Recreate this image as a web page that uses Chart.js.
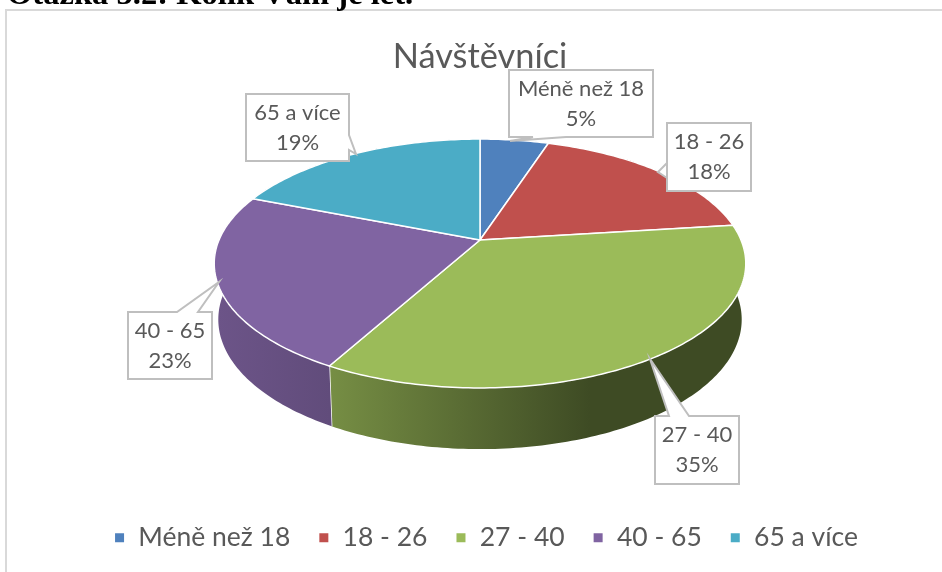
<!DOCTYPE html>
<html>
<head>
<meta charset="utf-8">
<title>Návštěvníci</title>
<script src="https://cdn.jsdelivr.net/npm/chart.js@4/dist/chart.umd.min.js"></script>
<style>
  html, body { margin: 0; padding: 0; background: #fff; overflow: hidden; }
  #wrap { position: relative; width: 942px; height: 572px; }
</style>
</head>
<body>
<div id="wrap"><canvas id="chart" width="942" height="572"></canvas></div>
<script>
const categories = ['Méně než 18', '18 - 26', '27 - 40', '40 - 65', '65 a více'];
const visitors = [5, 18, 35, 23, 19];
const sliceColors = ['#4F81BD', '#C0504D', '#9BBB59', '#8064A2', '#4BACC6'];
const heading = 'Otázka 3.2: Kolik Vám je let.';
const chartTitle = 'Návštěvníci';

const TEXT = '#595959';
const FONT = 'Lato, "Open Sans", sans-serif';

// Perspective of the tilted disc: top face and the smaller bottom rim
const CENTER_X = 480;
const topRim = { cy: 240, a: 261, b: 120, k: -0.1888 };
const bottomRim = { cy: 295, a: 257, b: 125, k: -0.1888 };

// wall shade by x position, fraction of the slice colour
const wallShade = [[218, 0.84], [330, 0.76], [590, 0.40], [745, 0.40]];

// Callout boxes: x, y, w, h, pointer tip and the two points where it leaves the box
const callouts = [
    { box: [509, 70, 144, 67], tip: [510, 141], base: [[566, 137], [533, 137]] },
    { box: [667, 123, 84, 68], tip: [658, 172], base: [[667, 163], [667, 178]] },
    { box: [655, 416, 84, 68], tip: [650, 359], base: [[669, 416], [689, 416]] },
    { box: [128, 312, 84, 67], tip: [219, 282], base: [[177, 312], [198, 312]] },
    { box: [246, 94, 103, 67], tip: [356, 154], base: [[349, 135], [349, 150]] }
];

function project(rim, angle) {
    const u = Math.cos(angle), v = Math.sin(angle);
    const w = 1 + rim.k * v;
    return [CENTER_X + rim.a * u / w, rim.cy + rim.b * v / w];
}

function rimPoints(rim, start, end) {
    const steps = Math.max(8, Math.ceil((end - start) * 60));
    const pts = [];
    for (let i = 0; i <= steps; i++) {
        pts.push(project(rim, start + (end - start) * i / steps));
    }
    return pts;
}

function shade(hex, f) {
    const n = parseInt(hex.slice(1), 16);
    return `rgb(${Math.round((n >> 16) * f)}, ${Math.round(((n >> 8) & 255) * f)}, ${Math.round((n & 255) * f)})`;
}

const pie3d = {
    id: 'pie3d',
    afterLayout(chart) {
        // legend sits a little right of the title in the original
        chart.legend.left += 6;
        chart.legend.right += 6;
    },
    beforeDraw(chart) {
        const ctx = chart.ctx;
        ctx.save();
        ctx.fillStyle = '#fff';
        ctx.fillRect(0, 0, 942, 572);
        // frame of the pasted chart, cut by the page edge
        ctx.strokeStyle = '#D9D9D9';
        ctx.lineWidth = 2;
        ctx.beginPath();
        ctx.moveTo(6, 600);
        ctx.lineTo(6, 10);
        ctx.lineTo(960, 10);
        ctx.stroke();
        // document heading above the chart
        ctx.fillStyle = '#000';
        ctx.font = 'bold 32.6px "Liberation Serif", serif';
        ctx.textAlign = 'left';
        ctx.textBaseline = 'alphabetic';
        ctx.fillText(heading, 7, 4);
        ctx.restore();
    },
    beforeDatasetDraw(chart, args) {
        const ctx = chart.ctx;
        const arcs = chart.getDatasetMeta(args.index).data;
        ctx.save();
        ctx.lineJoin = 'round';

        // side walls
        arcs.forEach((arc, i) => {
            const { startAngle, endAngle } = arc.getProps(['startAngle', 'endAngle'], true);
            const upper = rimPoints(topRim, startAngle, endAngle);
            const lower = rimPoints(bottomRim, startAngle, endAngle).reverse();
            const grad = ctx.createLinearGradient(218, 0, 745, 0);
            wallShade.forEach(([x, f]) => grad.addColorStop((x - 218) / (745 - 218), shade(sliceColors[i], f)));
            ctx.beginPath();
            upper.concat(lower).forEach(([x, y], n) => (n ? ctx.lineTo(x, y) : ctx.moveTo(x, y)));
            ctx.closePath();
            ctx.fillStyle = grad;
            ctx.fill();
            // seam between two walls
            const a = project(topRim, endAngle), b = project(bottomRim, endAngle);
            ctx.strokeStyle = '#fff';
            ctx.lineWidth = 1.5;
            ctx.beginPath();
            ctx.moveTo(a[0], a[1]);
            ctx.lineTo(b[0], b[1]);
            ctx.stroke();
        });

        // top face
        arcs.forEach((arc, i) => {
            const { startAngle, endAngle } = arc.getProps(['startAngle', 'endAngle'], true);
            ctx.beginPath();
            ctx.moveTo(CENTER_X, topRim.cy);
            rimPoints(topRim, startAngle, endAngle).forEach(([x, y]) => ctx.lineTo(x, y));
            ctx.closePath();
            ctx.fillStyle = sliceColors[i];
            ctx.fill();
            ctx.strokeStyle = '#fff';
            ctx.lineWidth = 1.5;
            ctx.stroke();
        });
        ctx.restore();
        return false;
    },
    afterDatasetsDraw(chart) {
        const ctx = chart.ctx;
        const total = visitors.reduce((s, v) => s + v, 0);
        ctx.save();
        callouts.forEach((c, i) => {
            const [x, y, w, h] = c.box;
            const corners = [[x, y], [x + w, y], [x + w, y + h], [x, y + h]];
            // walk the box clockwise and insert the pointer on its edge
            const edge = c.base[0][1] === y && c.base[1][1] === y ? 0
                : c.base[0][0] === x + w ? 1
                : c.base[0][1] === y + h ? 2 : 3;
            ctx.beginPath();
            corners.forEach((p, n) => {
                n ? ctx.lineTo(p[0], p[1]) : ctx.moveTo(p[0], p[1]);
                if (n === edge) {
                    ctx.lineTo(c.base[0][0], c.base[0][1]);
                    ctx.lineTo(c.tip[0], c.tip[1]);
                    ctx.lineTo(c.base[1][0], c.base[1][1]);
                }
            });
            ctx.closePath();
            ctx.fillStyle = '#fff';
            ctx.fill();
            ctx.strokeStyle = '#BFBFBF';
            ctx.lineWidth = 2;
            ctx.stroke();

            ctx.fillStyle = TEXT;
            ctx.font = '22px ' + FONT;
            ctx.textAlign = 'center';
            ctx.textBaseline = 'middle';
            const pct = Math.round(visitors[i] / total * 100) + '%';
            ctx.fillText(categories[i], x + w / 2, y + h / 2 - 15);
            ctx.fillText(pct, x + w / 2, y + h / 2 + 15);
        });
        ctx.restore();
    }
};

new Chart(document.getElementById('chart'), {
    type: 'pie',
    data: {
        labels: categories,
        datasets: [{
            data: visitors,
            backgroundColor: sliceColors
        }]
    },
    plugins: [pie3d],
    options: {
        responsive: false,
        animation: false,
        layout: { padding: { left: 18, right: 0, top: 36, bottom: 11 } },
        plugins: {
            tooltip: { enabled: false },
            title: {
                display: true,
                text: chartTitle,
                color: TEXT,
                font: { family: FONT, size: 34.4, weight: 'normal' },
                padding: 0
            },
            legend: {
                position: 'bottom',
                labels: {
                    color: TEXT,
                    font: { family: FONT, size: 26.5 },
                    boxWidth: 11,
                    boxHeight: 11,
                    padding: 28
                }
            }
        }
    }
});
</script>
</body>
</html>
